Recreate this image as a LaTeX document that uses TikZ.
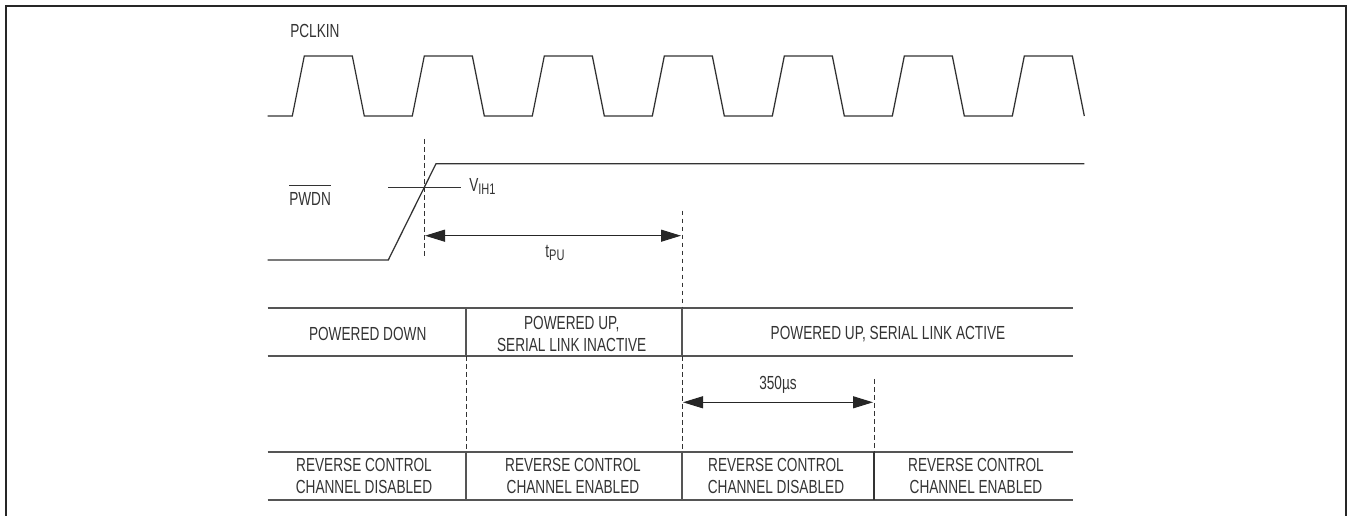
\documentclass[tikz,border=0pt]{standalone}
\usepackage{fontspec}
\setmainfont[FakeStretch=0.72]{Liberation Sans}
\usetikzlibrary{arrows.meta}
\definecolor{inkgray}{HTML}{333333}
\definecolor{rulegray}{HTML}{555555}
\tikzset{
  wave/.style={line width=0.95pt,color=inkgray,line join=miter},
  rulerow/.style={line width=1.3pt,color=rulegray},
  guide/.style={line width=0.6pt,color=inkgray,dashed,dash pattern=on 3.6pt off 2.4pt},
  dimline/.style={line width=0.9pt,color=black!85,{Triangle[length=15pt,width=9pt]}-{Triangle[length=15pt,width=9pt]}},
  lbl/.style={color=inkgray,font=\fontsize{14.2}{17}\selectfont,inner sep=0pt,align=center},
}
\newcommand{\lowtxt}[1]{\raisebox{-0.3ex}{\fontsize{11.5}{12}\selectfont #1}}
\begin{document}
\begin{tikzpicture}[x=0.75pt,y=-0.75pt]
\useasboundingbox (0,0) rectangle (1347,516);
\draw[line width=1.5pt,color=black!85] (6,516) -- (6,6) -- (1346,6) -- (1346,516); % outer frame
% clock, one trapezoid per pulse
\draw[wave] (267.5,116) -- (292.3,116)
  \foreach \k in {0,...,5} {-- ++(12,-60) -- ++(48,0) -- ++(12,60) -- ++(48,0)}
  -- ++(12,-60) -- ++(48,0) -- ++(12,60);
\draw[wave] (267.5,260) -- (388.3,260) -- (436,163.7) -- (1084.3,163.7); % edit here for the rising edge
\coordinate (vihL) at (388,187.3);
\coordinate (vihR) at (461,187.3);
\draw[wave] (vihL) -- (vihR);
\node[lbl,anchor=west] (vih) at (469,186.5) {V\lowtxt{IH1}};
\node[lbl,anchor=west] (pclkin) at (290,31) {PCLKIN};
\node[lbl,anchor=base west] (pwdn) at (289,206) {$\overline{\mbox{\rule{0pt}{14pt}PWDN}}$};
% the two rows
\foreach \y/\name in {308/a,356/b,452/c,500/d}{
  \coordinate (\name L) at (267.5,\y);
  \coordinate (\name R) at (1072.7,\y);
  \draw[rulerow] (\name L) -- (\name R);
}
\foreach \x/\name in {466/p,682/q}{
  \coordinate (\name a) at (\x,308);
  \coordinate (\name b) at (\x,356);
  \coordinate (\name c) at (\x,452);
  \coordinate (\name d) at (\x,500);
  \draw[rulerow,line width=1pt] (\name a) -- (\name b);
  \draw[rulerow,line width=1pt] (\name c) -- (\name d);
  \draw[guide] (\name b) -- (\name c);
}
\coordinate (rc) at (874,452);
\coordinate (rd) at (874,500);
\coordinate (rtop) at (874,379);
\draw[line width=1pt,color=inkgray] (rc) -- (rd);
\draw[guide] (rtop) -- (rc);
% guides above the rows
\coordinate (edgeT) at (424,139);
\coordinate (edgeB) at (424,256);
\coordinate (onT) at (682,210.7);
\draw[guide] (edgeT) -- (edgeB);
\draw[guide] (onT) -- (qa);
% timing arrows
\coordinate (tpuL) at (425,235.7);
\coordinate (tpuR) at (681,235.7);
\coordinate (usL) at (683,402.3);
\coordinate (usR) at (873,402.3);
\draw[dimline] (tpuL) -- (tpuR);
\draw[dimline] (usL) -- (usR);
\node[lbl] (tpu) at (555,253) {t\lowtxt{PU}};
\node[lbl] (delay) at (778,385) {350µs};
\foreach \x/\y/\name/\texto in {
  367.7/334/down/{POWERED DOWN},
  571.7/334/idle/{POWERED UP,\\SERIAL LINK INACTIVE},
  888/334/act/{POWERED UP, SERIAL LINK ACTIVE},
  364/476/revA/{REVERSE CONTROL\\CHANNEL DISABLED},
  573/476/revB/{REVERSE CONTROL\\CHANNEL ENABLED},
  776/476/revC/{REVERSE CONTROL\\CHANNEL DISABLED},
  976/476/revD/{REVERSE CONTROL\\CHANNEL ENABLED}}
\node[lbl] (\name) at (\x,\y) {\texto};
\end{tikzpicture}
\end{document}
